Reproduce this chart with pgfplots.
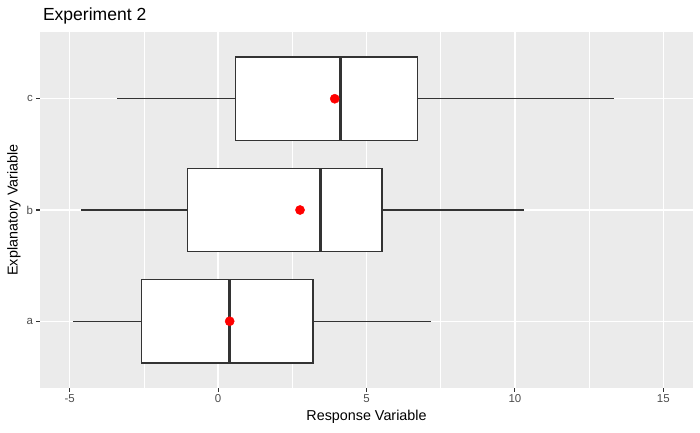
\documentclass[border=0pt]{standalone}
\usepackage{pgfplots}
\pgfplotsset{compat=1.18}
\usepgfplotslibrary{statistics}
\usepackage{fontspec}
\setmainfont{Liberation Sans}
\definecolor{panelbg}{HTML}{EBEBEB}
\definecolor{boxline}{HTML}{333333}
\definecolor{ticktext}{HTML}{4D4D4D}
\pgfplotsset{
  ggbox/.style={draw=boxline, fill=white, line width=1.3bp, solid, mark=none,
    boxplot/every whisker/.style={line width=1.3bp, draw=boxline},
    boxplot/every box/.style={line width=1.3bp, draw=boxline, fill=white},
    boxplot/every median/.style={line width=2.8bp, draw=boxline}}
}
\begin{document}
\begin{tikzpicture}[x=1bp,y=1bp]
\useasboundingbox (-40,-44) rectangle (660,388);
\begin{axis}[
  at={(0,0)}, anchor=south west,
  scale only axis, width=653bp, height=356bp,
  xmin=-6, xmax=16, ymin=0.4, ymax=3.6,
  axis background/.style={fill=panelbg},
  axis line style={draw=none},
  xtick={-5,0,5,10,15},
  minor xtick={-2.5,2.5,7.5,12.5},
  ytick={1,2,3}, yticklabels={a,b,c},
  grid=both,
  major grid style={white, line width=1.4bp},
  minor grid style={white, line width=0.7bp},
  tick style={boxline, line width=1.1bp},
  major tick length=3.6bp, minor tick length=0pt,
  tick align=outside,
  xtick pos=bottom, ytick pos=left,
  ticklabel style={font=\fontsize{11.5}{12}\selectfont, text=ticktext},
  /pgf/number format/assume math mode=true,
  xticklabel style={yshift=1bp},
  yticklabel style={xshift=0bp},
  xlabel={Response Variable},
  ylabel={Explanatory Variable},
  label style={font=\fontsize{14.4}{16}\selectfont, text=black},
  xlabel style={yshift=-1bp},
  ylabel style={yshift=-1bp},
  title={Experiment 2},
  title style={font=\fontsize{17.6}{19}\selectfont, anchor=base west, at={(rel axis cs:0,1)}, xshift=-0.5bp, yshift=6bp},
  clip=false,
]
\addplot+[ggbox, boxplot prepared={lower whisker=-4.90, lower quartile=-2.57, median=0.39, upper quartile=3.20, upper whisker=7.16, draw position=1, draw direction=x, box extend=0.75, whisker extend=0}] coordinates {};
\addplot+[ggbox, boxplot prepared={lower whisker=-4.62, lower quartile=-1.02, median=3.46, upper quartile=5.52, upper whisker=10.32, draw position=2, draw direction=x, box extend=0.75, whisker extend=0}] coordinates {};
\addplot+[ggbox, boxplot prepared={lower whisker=-3.41, lower quartile=0.59, median=4.13, upper quartile=6.71, upper whisker=13.33, draw position=3, draw direction=x, box extend=0.75, whisker extend=0}] coordinates {};
\addplot[only marks, mark=*, mark size=4.6bp, color=red, fill=red] coordinates {
  (0.39,1) (2.76,2) (3.93,3)
};
\end{axis}
\end{tikzpicture}
\end{document}
